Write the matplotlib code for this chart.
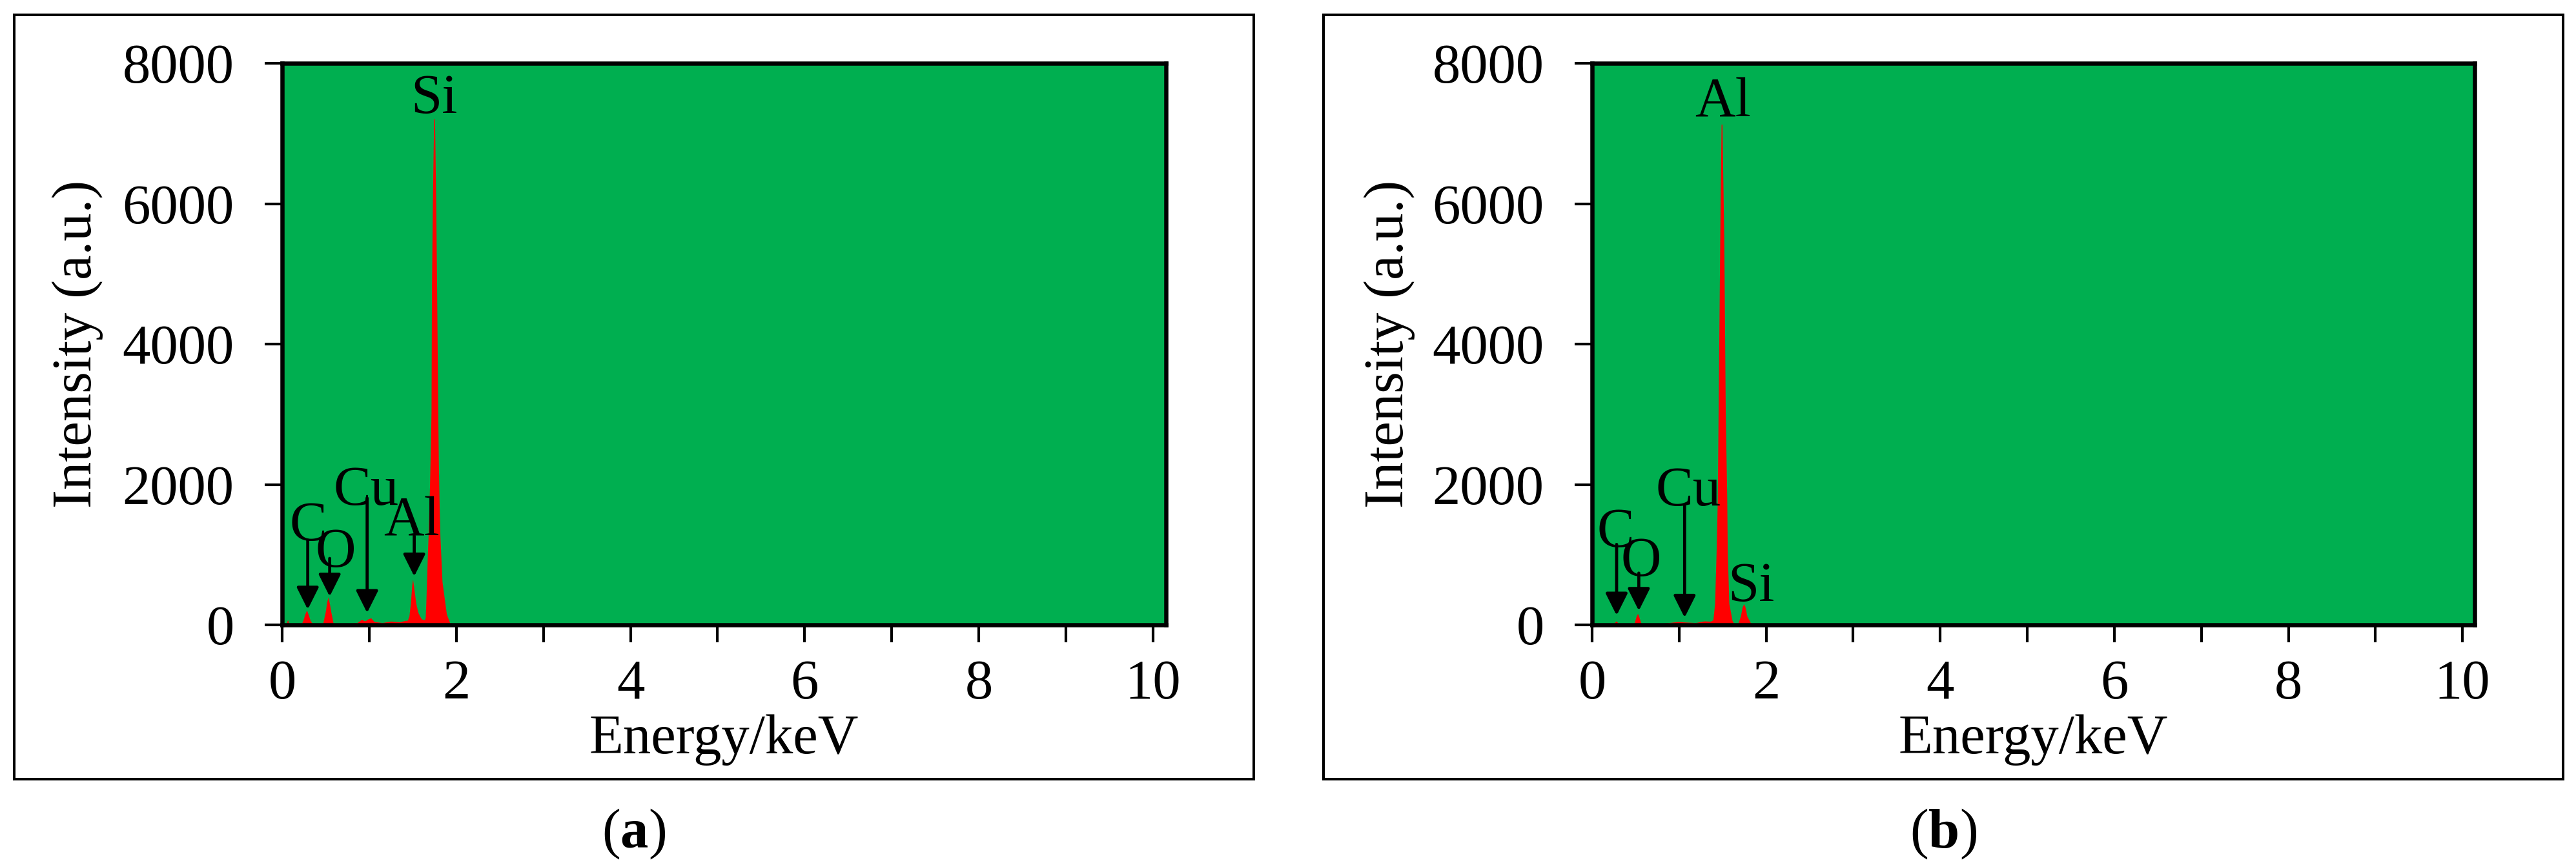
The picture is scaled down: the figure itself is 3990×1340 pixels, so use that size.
import matplotlib
matplotlib.use("Agg")
import matplotlib.pyplot as plt
from matplotlib.patches import Rectangle

plt.rcParams['font.family'] = ['Liberation Serif', 'DejaVu Serif']
plt.rcParams['mathtext.fontset'] = 'custom'
plt.rcParams['mathtext.rm'] = 'Liberation Serif'
plt.rcParams['mathtext.bf'] = 'Liberation Serif:bold'

# ---------------- data ----------------
energy_a = [0.00, 0.05, 0.060, 0.067, 0.075, 0.09, 0.15, 0.22, 0.24, 0.262, 0.282, 0.30,
            0.324, 0.35, 0.40, 0.46, 0.47, 0.497, 0.515, 0.529, 0.545, 0.561, 0.586,
            0.60, 0.69, 0.76, 0.862, 0.912, 0.94, 0.96, 0.99, 1.02, 1.057, 1.15, 1.25,
            1.35, 1.41, 1.44, 1.458, 1.475, 1.49, 1.50, 1.512, 1.537, 1.56, 1.582, 1.60,
            1.62, 1.635, 1.645, 1.652, 1.660, 1.670, 1.678, 1.695, 1.707, 1.712, 1.717,
            1.727, 1.742, 1.752, 1.766, 1.776, 1.789, 1.796, 1.805, 1.814, 1.838, 1.888,
            1.925, 1.96, 2.0, 2.5, 3.0, 4.0, 5.0, 6.0, 8.0, 10.15]
counts_a = [5, 10, 60, 70, 20, 10, 8, 10, 61, 150, 210, 150,
            61, 12, 8, 10, 30, 184, 330, 395, 300, 184, 31,
            12, 12, 20, 31, 77, 60, 61, 85, 98, 46, 31, 52,
            40, 61, 65, 123, 306, 560, 650, 540, 306, 180, 123, 85,
            75, 70, 100, 300, 613, 1000, 1257, 2000, 2700, 3040, 4800,
            5970, 7207, 7207, 5970, 4800, 3040, 2300, 1700, 1257, 613, 153,
            31, 15, 12, 10, 10, 8, 6, 5, 5, 4]

energy_b = [0.00, 0.05, 0.10, 0.24, 0.262, 0.277, 0.292, 0.314, 0.35, 0.45, 0.47, 0.487,
            0.505, 0.524, 0.54, 0.561, 0.58, 0.623, 0.80, 0.994, 1.05, 1.19, 1.29, 1.36,
            1.39, 1.41, 1.427, 1.441, 1.450, 1.469, 1.484, 1.494, 1.515, 1.532, 1.549,
            1.555, 1.573, 1.61, 1.63, 1.66, 1.67, 1.68, 1.706, 1.725, 1.743, 1.76, 1.78,
            1.82, 1.85, 1.90, 2.7, 3.0, 5.0, 10.14]
counts_b = [15, 15, 8, 8, 35, 55, 35, 8, 5, 5, 8, 31,
            110, 162, 110, 31, 8, 10, 20, 46, 40, 31, 55, 50,
            70, 306, 1042, 1803, 3037, 5504, 7131, 7131, 5504, 3037, 1803,
            1042, 306, 61, 20, 15, 15, 31, 123, 250, 300, 250, 123,
            31, 10, 8, 8, 8, 5, 4]

x_ticks = list(range(0, 11))
x_ticklabels = ['0', '', '2', '', '4', '', '6', '', '8', '', '10']
y_ticks = [0, 2000, 4000, 6000, 8000]
y_ticklabels = ['0', '2000', '4000', '6000', '8000']

x_label = 'Energy/keV'
y_label = 'Intensity (a.u.)'

# peak labels: (text, energy, count at text baseline)
labels_a = [('Si', 1.746, 7290), ('C', 0.296, 1207), ('O', 0.615, 830),
            ('Cu', 0.965, 1713), ('Al', 1.486, 1269)]
labels_b = [('Al', 1.50, 7240), ('C', 0.267, 1115), ('O', 0.561, 700),
            ('Cu', 1.105, 1698), ('Si', 1.825, 340)]
# arrows: (energy, count at shaft top, count at tip)
arrows_a = [(0.294, 1207, 220), (0.546, 947, 405), (0.976, 1806, 172), (1.517, 1269, 692)]
arrows_b = [(0.282, 1147, 135), (0.537, 738, 202), (1.063, 1704, 104)]

panel_tags = [r'($\mathbf{a}$)', r'($\mathbf{b}$)']

# ---------------- layout ----------------
W, H = 3990, 1340
DPI = 100
fig = plt.figure(figsize=(W / DPI, H / DPI), dpi=DPI, facecolor='white')

FS = 62.5
GREEN = '#00AF50'
RED = '#FF0000'


def px2fig(x0, y0, x1, y1):
    return [x0 / W, 1 - y1 / H, (x1 - x0) / W, (y1 - y0) / H]


panels = [
    dict(frame=(22, 23, 1942, 1207), axes=(437, 98, 1806, 968), xmax=10.15,
         energy=energy_a, counts=counts_a, labels=labels_a, arrows=arrows_a,
         ylab_x=120, tag=panel_tags[0]),
    dict(frame=(2050, 23, 3970, 1207), axes=(2466, 98, 3833, 968), xmax=10.14,
         energy=energy_b, counts=counts_b, labels=labels_b, arrows=arrows_b,
         ylab_x=2152, tag=panel_tags[1]),
]

for p in panels:
    fx0, fy0, fx1, fy1 = p['frame']
    fig.patches.append(Rectangle((fx0 / W, 1 - fy1 / H), (fx1 - fx0) / W, (fy1 - fy0) / H,
                                 transform=fig.transFigure, fill=False,
                                 edgecolor='black', linewidth=2.9, zorder=0))
    ax0, ay0, ax1, ay1 = p['axes']
    ax = fig.add_axes(px2fig(ax0, ay0, ax1, ay1))
    ax.set_facecolor(GREEN)
    ax.fill_between(p['energy'], p['counts'], 0, color=RED, linewidth=0, zorder=1)
    ax.set_xlim(0, p['xmax'])
    ax.set_ylim(0, 8000)
    ax.set_xticks(x_ticks)
    ax.set_xticklabels(x_ticklabels)
    ax.set_yticks(y_ticks)
    ax.set_yticklabels(y_ticklabels)
    for s in ax.spines.values():
        s.set_linewidth(4.7)
        s.set_color('black')
    ax.tick_params(axis='both', direction='out', length=19.5, width=3.0,
                   labelsize=FS, colors='black')
    ax.tick_params(axis='x', pad=19)
    ax.tick_params(axis='y', pad=34)
    ax.tick_params(top=False, right=False)

    ax.set_xlabel(x_label, fontsize=FS)
    ax.xaxis.set_label_coords(0.5, -(1146 - 968) / 870)
    ax.xaxis.label.set_va('center')
    ax.set_ylabel(y_label, fontsize=FS)
    ax.yaxis.set_label_coords((p['ylab_x'] - ax0) / (ax1 - ax0), 0.5)
    ax.yaxis.label.set_va('center')

    for txt, xe, yb in p['labels']:
        ax.text(xe, yb, txt, fontsize=FS, ha='center', va='baseline', color='black', zorder=4)
    for xe, ytop, ytip in p['arrows']:
        ax.annotate('', xy=(xe, ytip), xytext=(xe, ytop),
                    arrowprops=dict(arrowstyle='-|>,head_length=1.0,head_width=0.5',
                                    mutation_scale=21, lw=3.4, color='black',
                                    shrinkA=0, shrinkB=0), zorder=5)

    fig.text(((fx0 + fx1) / 2) / W, 1 - 1313 / H, p['tag'], fontsize=FS,
             ha='center', va='baseline', color='black')

fig.savefig('out.png', dpi=DPI, facecolor='white')
